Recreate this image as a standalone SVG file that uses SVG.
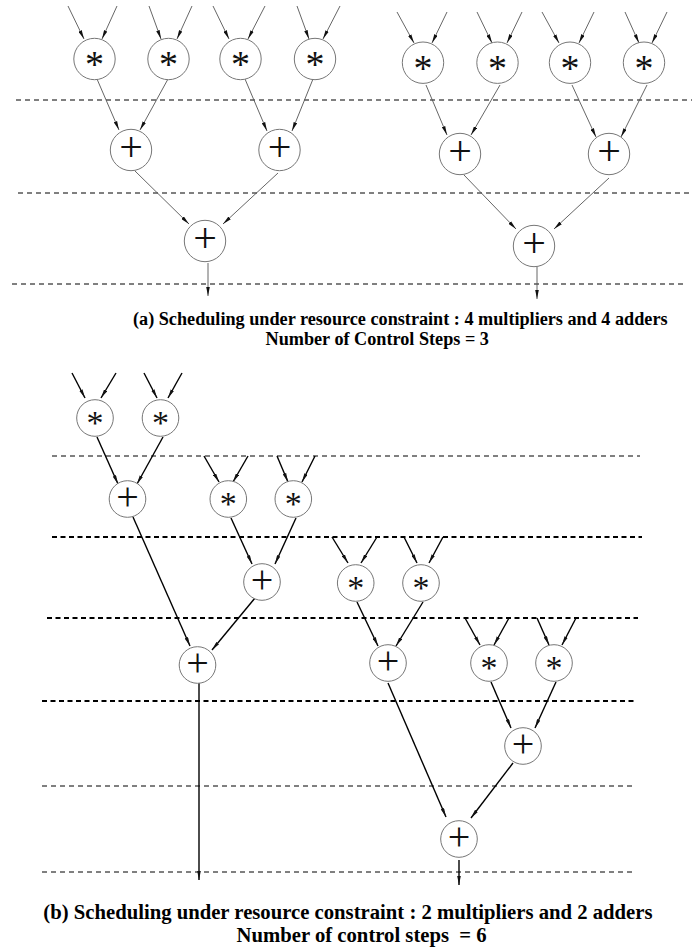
<svg xmlns="http://www.w3.org/2000/svg" width="699" height="950" viewBox="0 0 699 950">
<defs>
<marker id="ah" markerUnits="userSpaceOnUse" viewBox="0 0 10 4" refX="10" refY="2" markerWidth="9" markerHeight="4" orient="auto">
<path d="M0,0 L10,2 L0,4 Z" fill="#111"/>
</marker>
<style>
.n circle{fill:#fff;stroke:#777;stroke-width:1}
.n text{font-family:"Liberation Serif","Times New Roman",serif;fill:#111;text-anchor:middle}
.mul{font-size:38px}
.mulb{font-size:34px}
.add{font-size:42px}
.addb{font-size:40px}
.e1 line{stroke:#555;stroke-width:0.9;marker-end:url(#ah)}
.e2 line{stroke:#000;stroke-width:1.4;marker-end:url(#ah)}
.d1{stroke:#000;stroke-width:1;stroke-dasharray:5 4;fill:none}
.d2{stroke:#000;stroke-width:2;stroke-dasharray:5 3.5;fill:none}
.cap{font-family:"Liberation Serif","Times New Roman",serif;font-weight:bold;fill:#000}
</style>
</defs>
<rect width="699" height="950" fill="#fff"/>

<g id="steps">
<line class="d1" x1="16" y1="100" x2="692" y2="100"/>
<line class="d1" x1="18" y1="193" x2="692" y2="193"/>
<line class="d1" x1="12" y1="284" x2="687" y2="284"/>
<line class="d1" x1="52" y1="456" x2="640" y2="456"/>
<line class="d2" x1="52" y1="537" x2="642" y2="537"/>
<line class="d2" x1="47" y1="618" x2="638" y2="618"/>
<line class="d2" x1="42" y1="701" x2="636" y2="701"/>
<line class="d1" x1="42" y1="786" x2="636" y2="786"/>
<line class="d1" x1="42" y1="872" x2="636" y2="872"/>
</g>

<g id="connectors">
<g class="e1">
<line x1="68" y1="6" x2="84" y2="39"/>
<line x1="117" y1="6" x2="102" y2="39"/>
<line x1="149" y1="6" x2="161" y2="39"/>
<line x1="192" y1="6" x2="177" y2="39"/>
<line x1="213" y1="6" x2="229" y2="39"/>
<line x1="265" y1="6" x2="248" y2="39"/>
<line x1="297" y1="6" x2="309" y2="39"/>
<line x1="340" y1="6" x2="323" y2="39"/>
<line x1="97" y1="79" x2="119" y2="130"/>
<line x1="168" y1="79" x2="140" y2="130"/>
<line x1="245" y1="79" x2="267" y2="131"/>
<line x1="313" y1="79" x2="292" y2="131"/>
<line x1="135" y1="171" x2="189" y2="224"/>
<line x1="278" y1="173" x2="223" y2="224"/>
<line x1="208" y1="263" x2="208" y2="296"/>

<line x1="397" y1="12" x2="414" y2="43"/>
<line x1="447" y1="12" x2="432" y2="43"/>
<line x1="477" y1="12" x2="492" y2="43"/>
<line x1="522" y1="12" x2="507" y2="43"/>
<line x1="542" y1="12" x2="559" y2="43"/>
<line x1="594" y1="12" x2="579" y2="43"/>
<line x1="625" y1="12" x2="639" y2="43"/>
<line x1="667" y1="12" x2="652" y2="43"/>
<line x1="426" y1="85" x2="447" y2="135"/>
<line x1="500" y1="85" x2="471" y2="135"/>
<line x1="572" y1="85" x2="596" y2="137"/>
<line x1="647" y1="85" x2="621" y2="137"/>
<line x1="464" y1="175" x2="516" y2="229"/>
<line x1="609" y1="178" x2="554" y2="229"/>
<line x1="537" y1="267" x2="537" y2="299"/>
</g>
<g class="e2">
<line x1="72" y1="373" x2="85" y2="398"/>
<line x1="116" y1="373" x2="101" y2="398"/>
<line x1="144" y1="373" x2="157" y2="398"/>
<line x1="182" y1="373" x2="168" y2="398"/>
<line x1="97" y1="437" x2="118" y2="484"/>
<line x1="163" y1="437" x2="137" y2="484"/>
<line x1="204" y1="456" x2="219" y2="482"/>
<line x1="248" y1="456" x2="233" y2="482"/>
<line x1="277" y1="456" x2="288" y2="482"/>
<line x1="315" y1="456" x2="302" y2="482"/>
<line x1="231" y1="518" x2="252" y2="564"/>
<line x1="296" y1="518" x2="275" y2="564"/>
<line x1="133" y1="517" x2="190" y2="646"/>
<line x1="255" y1="598" x2="212" y2="650"/>
<line x1="332" y1="537" x2="348" y2="563"/>
<line x1="377" y1="537" x2="361" y2="563"/>
<line x1="404" y1="537" x2="417" y2="563"/>
<line x1="443" y1="537" x2="429" y2="563"/>
<line x1="357" y1="602" x2="378" y2="646"/>
<line x1="423" y1="602" x2="396" y2="646"/>
<line x1="465" y1="618" x2="480" y2="645"/>
<line x1="509" y1="618" x2="494" y2="645"/>
<line x1="537" y1="618" x2="549" y2="645"/>
<line x1="576" y1="618" x2="562" y2="645"/>
<line x1="491" y1="682" x2="511" y2="728"/>
<line x1="556" y1="682" x2="535" y2="728"/>
<line x1="388" y1="683" x2="446" y2="817"/>
<line x1="513" y1="763" x2="471" y2="818"/>
<line x1="199" y1="683" x2="199" y2="880"/>
<line x1="459" y1="860" x2="459" y2="885"/>
</g>
</g>

<g id="ta-m1" class="n"><circle cx="94.5" cy="59" r="20.7"/><text class="mul" x="94.5" y="77">*</text></g>
<g id="ta-m2" class="n"><circle cx="168.5" cy="59" r="20.7"/><text class="mul" x="168.5" y="77">*</text></g>
<g id="ta-m3" class="n"><circle cx="240.5" cy="59" r="20.7"/><text class="mul" x="240.5" y="77">*</text></g>
<g id="ta-m4" class="n"><circle cx="315" cy="59" r="20.7"/><text class="mul" x="315" y="77">*</text></g>
<g id="ta-a1" class="n"><circle cx="131" cy="150" r="20.7"/><text class="add" x="131" y="161">+</text></g>
<g id="ta-a2" class="n"><circle cx="279.5" cy="150" r="20.7"/><text class="add" x="279.5" y="161">+</text></g>
<g id="ta-a3" class="n"><circle cx="205" cy="241" r="20.7"/><text class="add" x="205" y="252">+</text></g>

<g id="tb-m1" class="n"><circle cx="423" cy="62.7" r="20.7"/><text class="mul" x="423" y="80.7">*</text></g>
<g id="tb-m2" class="n"><circle cx="497.5" cy="62.7" r="20.7"/><text class="mul" x="497.5" y="80.7">*</text></g>
<g id="tb-m3" class="n"><circle cx="570" cy="62.7" r="20.7"/><text class="mul" x="570" y="80.7">*</text></g>
<g id="tb-m4" class="n"><circle cx="644" cy="62.7" r="20.7"/><text class="mul" x="644" y="80.7">*</text></g>
<g id="tb-a1" class="n"><circle cx="460" cy="154" r="20.7"/><text class="add" x="460" y="165">+</text></g>
<g id="tb-a2" class="n"><circle cx="609" cy="154" r="20.7"/><text class="add" x="609" y="165">+</text></g>
<g id="tb-a3" class="n"><circle cx="534" cy="246" r="20.7"/><text class="add" x="534" y="257">+</text></g>

<g id="b-m1" class="n"><circle cx="95" cy="418" r="18.3"/><text class="mulb" x="95" y="434">*</text></g>
<g id="b-m2" class="n"><circle cx="160.5" cy="418" r="18.3"/><text class="mulb" x="160.5" y="434">*</text></g>
<g id="b-a1" class="n"><circle cx="127.5" cy="499" r="18.3"/><text class="addb" x="127.5" y="509.5">+</text></g>
<g id="b-m3" class="n"><circle cx="228.3" cy="499" r="18.3"/><text class="mulb" x="228.3" y="515">*</text></g>
<g id="b-m4" class="n"><circle cx="293.3" cy="499" r="18.3"/><text class="mulb" x="293.3" y="515">*</text></g>
<g id="b-a2" class="n"><circle cx="262" cy="582" r="18.3"/><text class="addb" x="262" y="592.5">+</text></g>
<g id="b-m5" class="n"><circle cx="355.7" cy="583" r="18.3"/><text class="mulb" x="355.7" y="599">*</text></g>
<g id="b-m6" class="n"><circle cx="421" cy="583" r="18.3"/><text class="mulb" x="421" y="599">*</text></g>
<g id="b-a4" class="n"><circle cx="197.5" cy="665" r="18.3"/><text class="addb" x="197.5" y="675.5">+</text></g>
<g id="b-a3" class="n"><circle cx="388" cy="663" r="18.3"/><text class="addb" x="388" y="673.5">+</text></g>
<g id="b-m7" class="n"><circle cx="489" cy="663" r="18.3"/><text class="mulb" x="489" y="679">*</text></g>
<g id="b-m8" class="n"><circle cx="554" cy="663" r="18.3"/><text class="mulb" x="554" y="679">*</text></g>
<g id="b-a5" class="n"><circle cx="523" cy="746" r="18.3"/><text class="addb" x="523" y="756.5">+</text></g>
<g id="b-a6" class="n"><circle cx="459" cy="839" r="18.3"/><text class="addb" x="459" y="849.5">+</text></g>

<g id="captions">
<text class="cap" x="133" y="325" font-size="18.2">(a) Scheduling under resource constraint : 4 multipliers and 4 adders</text>
<text class="cap" x="265.5" y="345" font-size="18.2">Number of Control Steps = 3</text>
<text class="cap" x="43.3" y="919" font-size="20.7">(b) Scheduling under resource constraint : 2 multipliers and 2 adders</text>
<text class="cap" x="236.6" y="942" font-size="20.7" xml:space="preserve">Number of control steps  = 6</text>
</g>
</svg>
